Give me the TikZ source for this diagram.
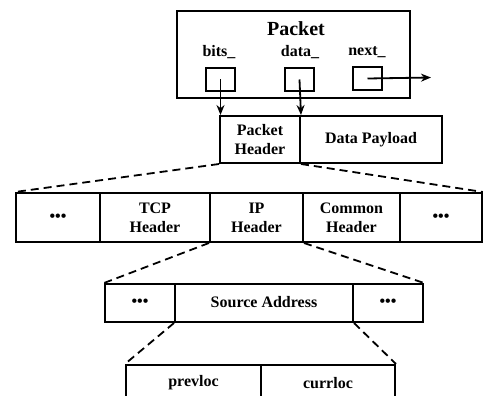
\documentclass[tikz,border=0pt]{standalone}
\usepackage{fontspec}
\setmainfont{Liberation Serif}
\usetikzlibrary{arrows.meta}
\begin{document}
\begin{tikzpicture}[x=1pt,y=-1pt,
  cell/.style={draw,line width=2pt,anchor=north west,inner sep=0pt,
    minimum height=#1,align=center,font=\fontsize{16}{19}\selectfont\bfseries},
  cell/.default=49pt,
  lbl/.style={inner sep=0pt,font=\fontsize{16}{19}\selectfont\bfseries},
  ptr/.style={line width=1.8pt,-{Stealth[length=10pt,width=8pt]}},
  zoomline/.style={line width=1.8pt,dash pattern=on 8pt off 5pt}]
\path[use as bounding box] (0,0) rectangle (483,396);
\clip (0,0) rectangle (483,396);

% Packet object with its three pointer fields
\node[cell, minimum width=233pt, minimum height=87pt] (packet) at (176,10) {};
\node[lbl, font=\fontsize{20}{22}\selectfont\bfseries] (ptitle) at (296,29) {Packet};
\node[lbl] (bitslbl) at (219,52) {bits\_};
\node[lbl] (datalbl) at (300,52) {data\_};
\node[lbl] (nextlbl) at (367,52) {next\_};
\node[cell, minimum width=29pt, minimum height=23pt] (bitsbox) at (205,67) {};
\node[cell, minimum width=29pt, minimum height=23pt] (databox) at (284,67) {};
\node[cell, minimum width=29pt, minimum height=23pt] (nextbox) at (352,66) {};
\coordinate (nextend) at (431,77.5);

% Packet buffer: header and payload
\node[cell=47pt, minimum width=80pt] (hdr) at (219,115) {Packet\\Header};
\node[cell=47pt, minimum width=142pt] (payload) at (299,115) {Data Payload};

% Header stack
\node[cell, minimum width=84pt] (d1) at (15,192) {•••};
\node[cell, minimum width=110pt] (tcp) at (99,192) {TCP\\Header};
\node[cell, minimum width=93pt] (ip) at (209,192) {IP\\Header};
\node[cell, minimum width=97pt] (common) at (302,192) {Common\\Header};
\node[cell, minimum width=82pt] (d2) at (399,192) {•••};

% IP header fields
\node[cell=38pt, minimum width=70pt] (r3a) at (104,283) {•••};
\node[cell=38pt, minimum width=178pt] (src) at (174,283) {\raisebox{3pt}{Source Address}};
\node[cell=38pt, minimum width=70pt] (r3b) at (352,283) {•••};

% Source address fields
\node[cell=36pt, minimum width=135pt] (prev) at (125,364) {\raisebox{2pt}{prevloc}};
\node[cell=36pt, minimum width=134pt] (curr) at (260,364) {currloc};

% pointers
\draw[ptr] (bitsbox.center) -- (bitsbox.center |- hdr.north);
\draw[ptr] (databox.center) -- (hdr.north east);
\draw[ptr] (nextbox.center) -- (nextend);

% zoom-in lines
\draw[zoomline] (hdr.south west) -- (d1.north west);
\draw[zoomline] (hdr.south east) -- (d2.north east);
\draw[zoomline] (ip.south west) -- (r3a.north west);
\draw[zoomline] (ip.south east) -- (r3b.north east);
\draw[zoomline] (src.south west) -- (prev.north west);
\draw[zoomline] (src.south east) -- (curr.north east);
\end{tikzpicture}
\end{document}
